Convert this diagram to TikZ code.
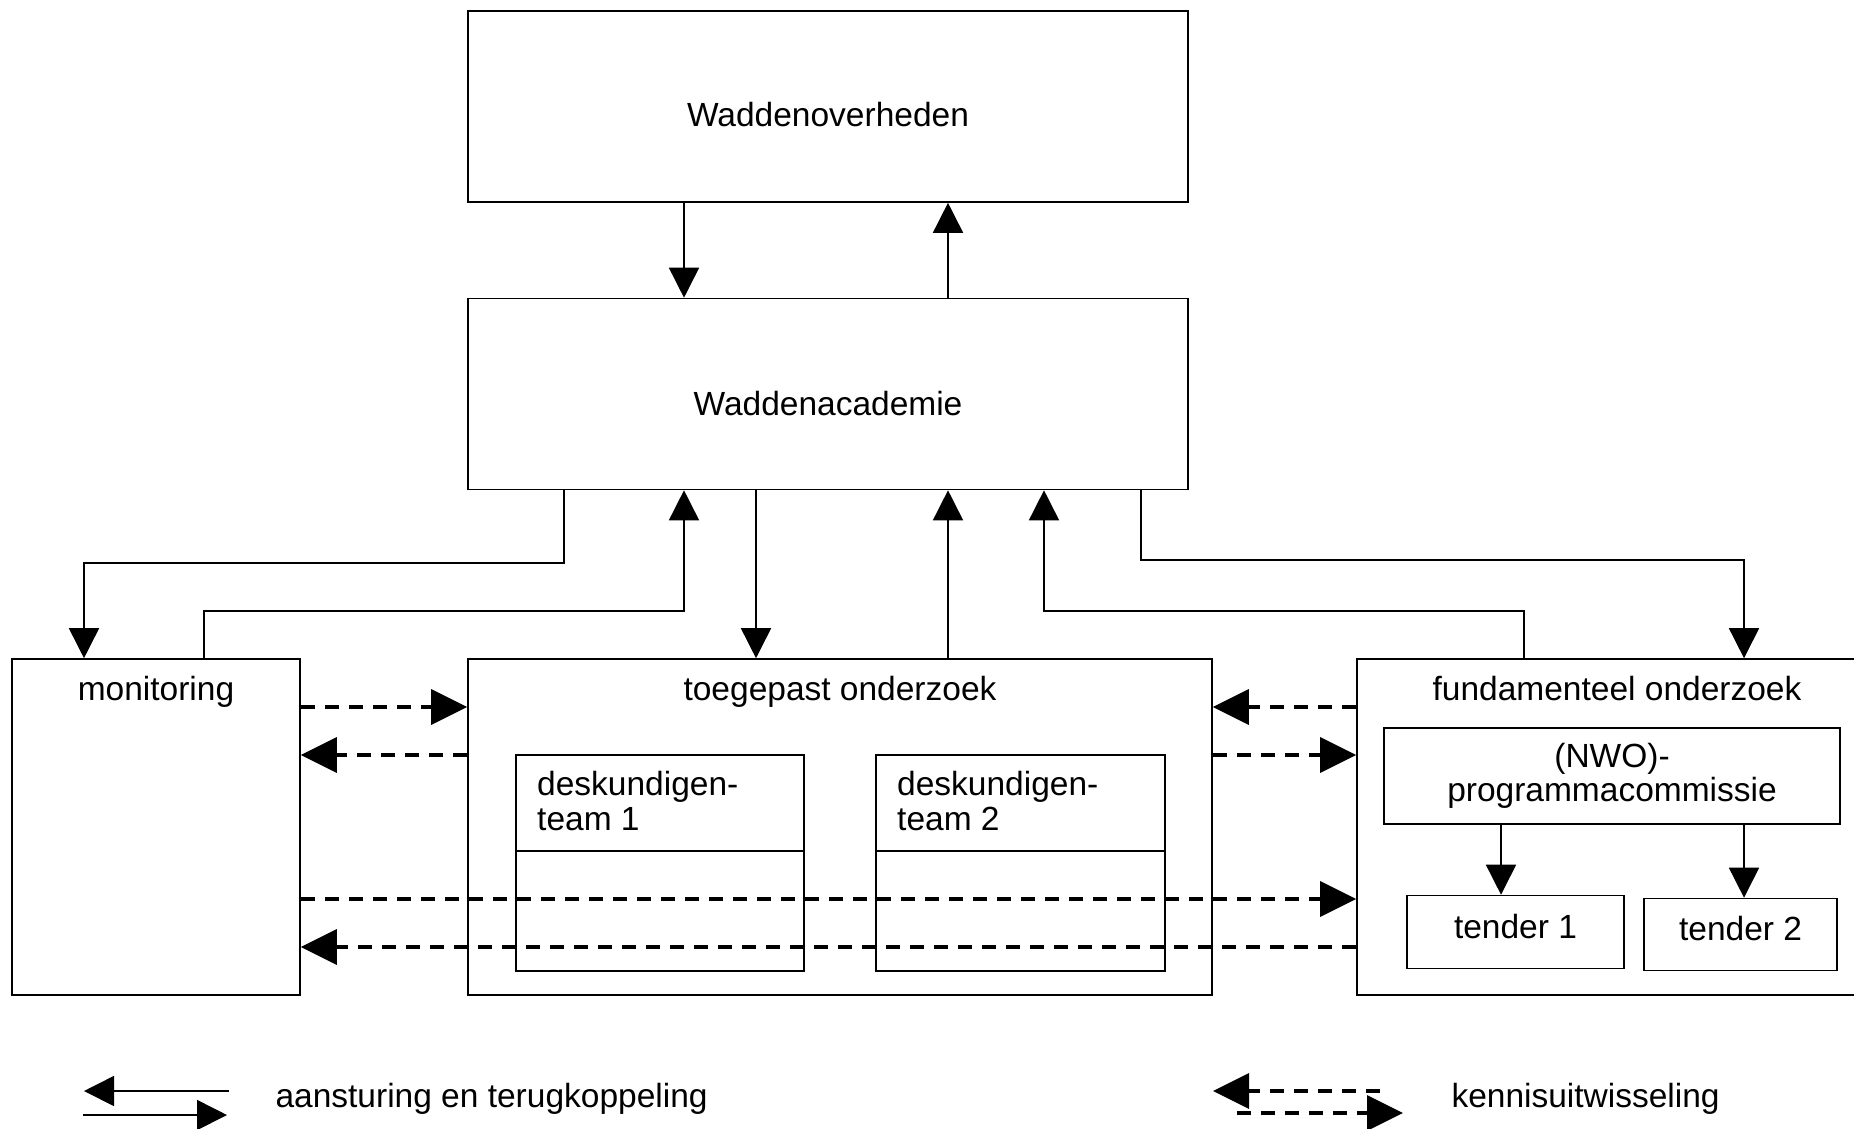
\documentclass[tikz,border=0pt]{standalone}
\usepackage{fontspec}
\setmainfont{Liberation Sans}
\usetikzlibrary{arrows.meta}

\begin{document}
\begin{tikzpicture}[x=1pt, y=-1pt,
    font=\fontsize{33.5}{34.5}\selectfont,
    box/.style={draw, line width=1.6pt, inner sep=0pt},
    stuur/.style={line width=1.6pt, -{Triangle[length=30pt, width=30pt]}},
    kennis/.style={line width=3.5pt, dash pattern=on 14pt off 10pt, -{Triangle[length=36pt, width=35pt]}}]
    \useasboundingbox (0,0) rectangle (1854,1128);

    % Nodes
    \node[box, minimum width=720pt, minimum height=191pt, text height=40pt, text depth=0pt] (wo) at (828,106.5) {Waddenoverheden};
    \node[box, minimum width=720pt, minimum height=191pt, text height=42pt, text depth=0pt] (wa) at (828,394) {Waddenacademie};
    \node[box, minimum width=288pt, minimum height=336pt] (mon) at (156,827) {};
    \node[box, minimum width=744pt, minimum height=336pt] (toe) at (840,827) {};
    \node[box, minimum width=522pt, minimum height=336pt] (fun) at (1618,827) {};
    \node[anchor=base] (montitel) at (156,700) {monitoring};
    \node[anchor=base] (toetitel) at (840,700) {toegepast onderzoek};
    \node[anchor=base] (funtitel) at (1617,700) {fundamenteel onderzoek};

    % Deskundigenteams
    \node[box, minimum width=288pt, minimum height=216pt] (team1) at (660,863) {};
    \node[box, minimum width=289pt, minimum height=216pt] (team2) at (1020.5,863) {};
    \draw[line width=1.6pt] (team1.west |- 0,851) -- (team1.east |- 0,851);
    \draw[line width=1.6pt] (team2.west |- 0,851) -- (team2.east |- 0,851);
    \node[anchor=base west, align=left, inner sep=0pt] (team1tekst) at (537,830) {deskundigen-\\team 1};
    \node[anchor=base west, align=left, inner sep=0pt] (team2tekst) at (897,830) {deskundigen-\\team 2};

    % Programmacommissie and tenders
    \node[box, minimum width=456pt, minimum height=96pt, align=center] (nwo) at (1612,776) {(NWO)-\\programmacommissie};
    \node[box, minimum width=217pt, minimum height=73pt, text depth=12pt] (t1) at (1515.5,932) {tender 1};
    \node[box, minimum width=193pt, minimum height=72pt, text depth=12pt] (t2) at (1740.5,934.5) {tender 2};

    % Edges between the top boxes
    \draw[stuur] (684,0 |- wo.south) -- (684,0 |- wa.north);
    \draw[stuur] (948,0 |- wa.north) -- (948,0 |- wo.south);

    % Edges below Waddenacademie
    \draw[stuur] (564,0 |- wa.south) |- (84,563) -- (84,0 |- mon.north);
    \draw[stuur] (204,0 |- mon.north) |- (684,611) -- (684,0 |- wa.south);
    \draw[stuur] (756,0 |- wa.south) -- (756,0 |- toe.north);
    \draw[stuur] (948,0 |- toe.north) -- (948,0 |- wa.south);
    \draw[stuur] (1524,0 |- fun.north) |- (1044,611) -- (1044,0 |- wa.south);
    \draw[stuur] (1141,0 |- wa.south) |- (1744,560) -- (1744,0 |- fun.north);
    \draw[stuur] (1501,0 |- nwo.south) -- (1501,0 |- t1.north);
    \draw[stuur] (1744,0 |- nwo.south) -- (1744,0 |- t2.north);

    % Kennisuitwisseling
    \draw[kennis] (mon.east |- 0,707) -- (toe.west |- 0,707);
    \draw[kennis] (toe.west |- 0,755) -- (mon.east |- 0,755);
    \draw[kennis] (fun.west |- 0,707) -- (toe.east |- 0,707);
    \draw[kennis] (toe.east |- 0,755) -- (fun.west |- 0,755);
    \draw[kennis] (mon.east |- 0,899) -- (fun.west |- 0,899);
    \draw[kennis] (fun.west |- 0,947) -- (mon.east |- 0,947);

    % Legend
    \coordinate (ls1) at (229,1091);
    \coordinate (ls2) at (84,1091);
    \coordinate (ls3) at (83,1115);
    \coordinate (ls4) at (227,1115);
    \coordinate (lk1) at (1380,1091);
    \coordinate (lk2) at (1213,1091);
    \coordinate (lk3) at (1237,1113);
    \coordinate (lk4) at (1403,1113);
    \draw[stuur] (ls1) -- (ls2);
    \draw[stuur] (ls3) -- (ls4);
    \draw[kennis] (lk1) -- (lk2);
    \draw[kennis] (lk3) -- (lk4);
    \node[anchor=base west] (legstuur) at (272,1107) {aansturing en terugkoppeling};
    \node[anchor=base west] (legkennis) at (1448,1107) {kennisuitwisseling};
\end{tikzpicture}
\end{document}
